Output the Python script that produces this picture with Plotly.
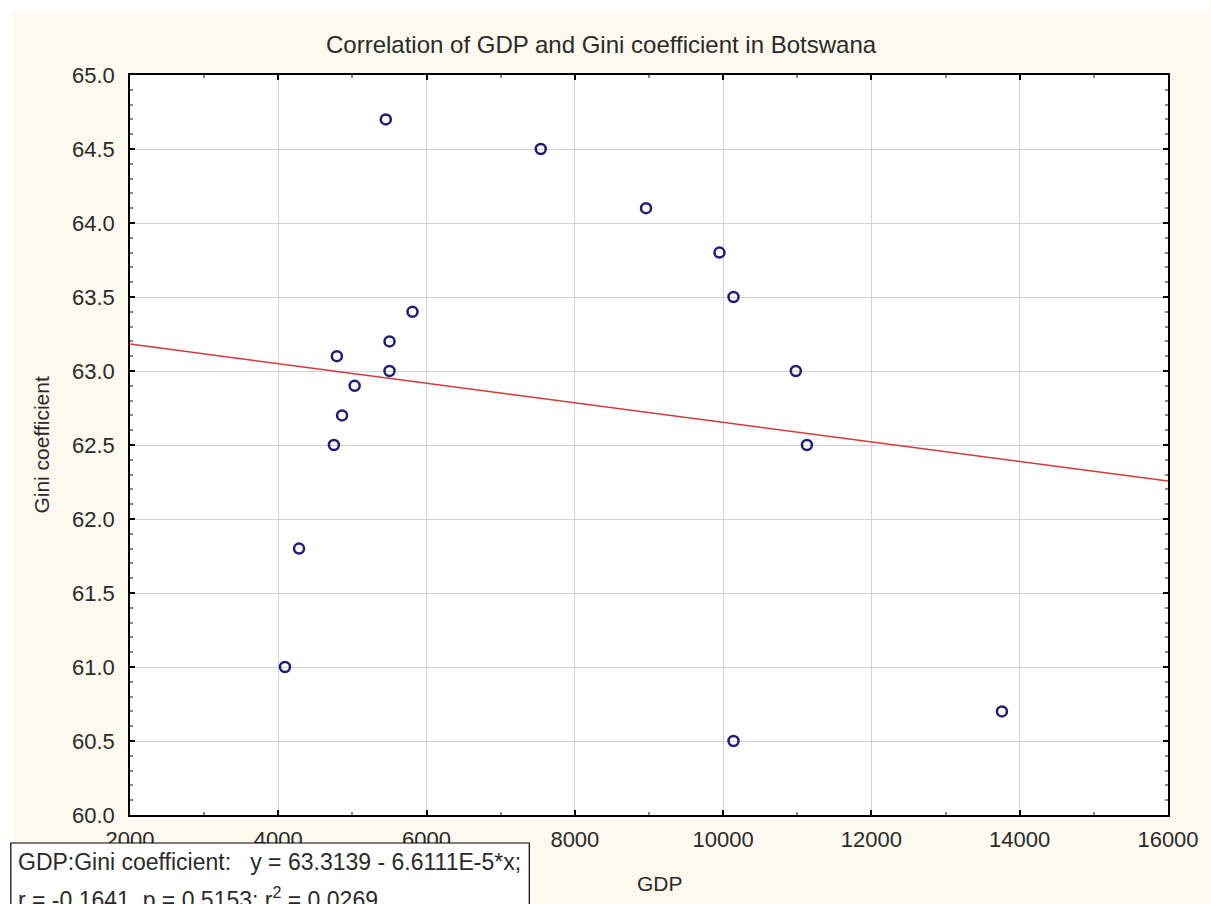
import plotly.graph_objects as go

# ---- data ----
gdp = [5450, 7540, 8960, 9950, 10140, 5810, 5500, 4790, 5500, 5030,
       4860, 4750, 10980, 11130, 4280, 4090, 13760, 10140]
gini = [64.7, 64.5, 64.1, 63.8, 63.5, 63.4, 63.2, 63.1, 63.0, 62.9,
        62.7, 62.5, 63.0, 62.5, 61.8, 61.0, 60.7, 60.5]

# regression coefficients printed on the chart
intercept = 63.3139
slope = -6.6111e-5
fit_x = [2000, 16000]

title_text = "Correlation of GDP and Gini coefficient in Botswana"
x_title = "GDP"
y_title = "Gini coefficient"
note_line1 = "GDP:Gini coefficient:   y = 63.3139 - 6.6111E-5*x;"
note_line2 = "r = -0.1641, p = 0.5153; r<sup>2</sup> = 0.0269"

FONT = "Liberation Sans, Arial, sans-serif"
CREAM = "#FDF9EE"
TXT = "#2a2a2a"

fig = go.Figure()

fig.add_trace(go.Scatter(
    x=fit_x, y=[intercept + slope * v for v in fit_x],
    mode="lines", line=dict(color="#d23a3a", width=1.5),
    hoverinfo="skip", showlegend=False,
))

fig.add_trace(go.Scatter(
    x=gdp, y=gini, mode="markers",
    marker=dict(symbol="circle-open", size=10, color="#1e1e78",
                line=dict(width=2.5, color="#1e1e78")),
    showlegend=False,
))

axis_common = dict(
    showline=True, linecolor="black", linewidth=1.5, mirror="ticks",
    ticks="inside", ticklen=5, tickwidth=1.5, tickcolor="black",
    showgrid=True, gridcolor="#d2d2d2", gridwidth=1, zeroline=False,
    tickfont=dict(family=FONT, size=22, color=TXT),
)

fig.update_xaxes(
    range=[2000, 16000], dtick=2000, tick0=2000, tickformat="d",
    minor=dict(dtick=1000, ticks="inside", ticklen=3, tickcolor="#888888", showgrid=False),
    ticklabelstandoff=4,
    **axis_common,
)
fig.update_yaxes(
    range=[60, 65], dtick=0.5, tick0=60, tickformat=".1f",
    minor=dict(dtick=0.1, ticks="inside", ticklen=3, tickcolor="#888888", showgrid=False),
    ticklabelstandoff=9,
    **axis_common,
)

L, R, T, B = 130, 36, 75, 89
W, H = 1211, 904
pw, ph = W - L - R, H - T - B


def px_x(x):
    return (x - L) / pw


def px_y(y):
    return (H - B - y) / ph


shapes = [
    # white border strips around the cream panel
    dict(type="rect", xref="paper", yref="paper", layer="below",
         x0=px_x(-5), x1=px_x(W + 5), y0=px_y(13), y1=px_y(-5),
         fillcolor="white", line=dict(width=0)),
    dict(type="rect", xref="paper", yref="paper", layer="below",
         x0=px_x(-5), x1=px_x(12), y0=px_y(H + 5), y1=px_y(-5),
         fillcolor="white", line=dict(width=0)),
    # statistics box
    dict(type="rect", xref="paper", yref="paper", layer="above",
         x0=px_x(10), x1=px_x(532), y0=px_y(915), y1=px_y(843),
         fillcolor="white", line=dict(color="black", width=1.2)),
]

annotations = [
    dict(text=title_text, xref="paper", yref="paper", x=px_x(605), y=px_y(45),
         xanchor="center", yanchor="middle", showarrow=False,
         font=dict(family=FONT, size=24, color=TXT)),
    dict(text=x_title, xref="paper", yref="paper", x=px_x(664), y=px_y(883),
         xanchor="center", yanchor="middle", showarrow=False,
         font=dict(family=FONT, size=21, color=TXT)),
    dict(text=y_title, xref="paper", yref="paper", x=px_x(40), y=px_y(445),
         xanchor="center", yanchor="middle", showarrow=False, textangle=-90,
         font=dict(family=FONT, size=21, color=TXT)),
    dict(text=note_line1, xref="paper", yref="paper", x=px_x(15), y=px_y(862),
         xanchor="left", yanchor="middle", showarrow=False,
         font=dict(family=FONT, size=23, color=TXT)),
    dict(text=note_line2, xref="paper", yref="paper", x=px_x(15), y=px_y(898),
         xanchor="left", yanchor="middle", showarrow=False,
         font=dict(family=FONT, size=23, color=TXT)),
]

fig.update_layout(
    width=W, height=H,
    margin=dict(l=L, r=R, t=T, b=B),
    paper_bgcolor=CREAM, plot_bgcolor="white",
    shapes=shapes, annotations=annotations,
    showlegend=False,
)

fig.write_html(
    "out.html",
    config={"displayModeBar": False},
    post_script="document.body.style.margin='0';document.body.style.overflow='hidden';",
)
